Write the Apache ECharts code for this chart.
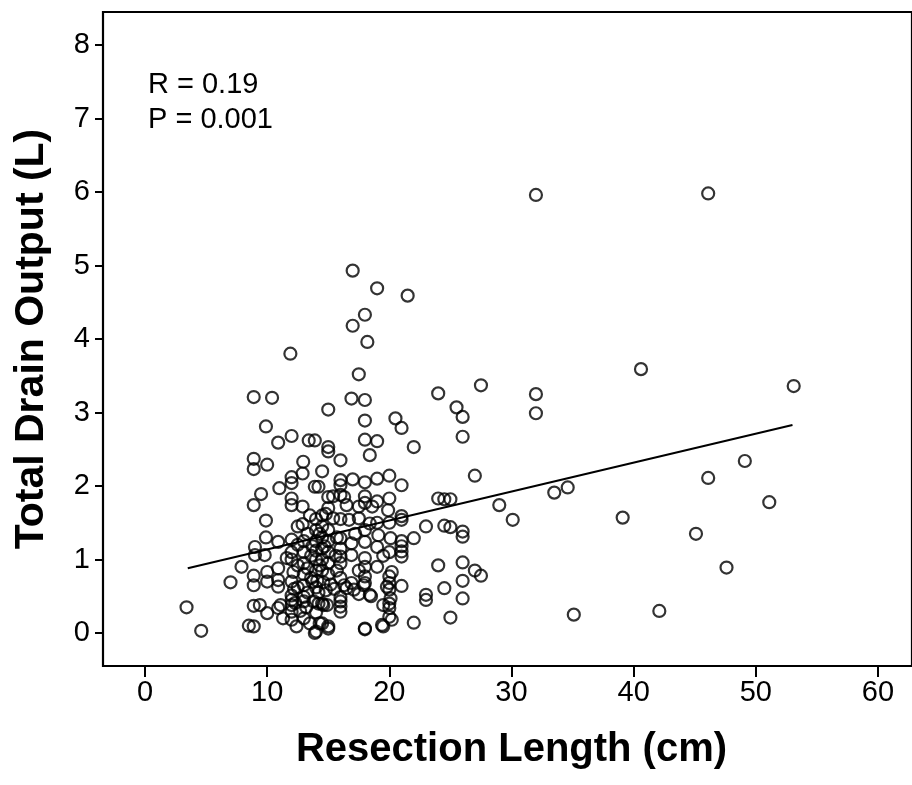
<!DOCTYPE html>
<html>
<head>
<meta charset="utf-8">
<script src="https://cdn.jsdelivr.net/npm/echarts@6/dist/echarts.min.js"></script>
<style>html,body{margin:0;padding:0;background:#fff;}#c{width:912px;height:785px;}</style>
</head>
<body>
<div id="c"></div>
<script>
// Resection length (cm)
const resectionLength = [
3.4,4.6,7.0,7.9,8.5,8.9,8.9,9.4,8.9,8.9,9.0,9.0,9.8,9.9,9.9,8.9,9.5,8.9,8.9,10.0,9.9,8.9,10.4,10.0,10.0,10.0,10.9,11.1,11.3,10.9,10.9,10.9,10.9,11.0,10.9,11.6,12.0,11.9,
12.0,12.0,12.0,12.0,12.0,12.0,12.15,12.0,12.0,12.0,12.0,12.0,12.4,12.3,12.0,12.0,12.2,
13.0,13.0,13.0,13.0,12.9,12.9,12.9,12.95,13.0,13.0,13.0,13.0,13.4,13.5,
13.9,13.9,13.9,14.0,13.8,14.2,14.1,14.0,14.0,14.0,14.0,14.0,14.0,13.6,13.6,13.5,14.2,14.5,14.3,14.2,14.0,
14.6,14.5,14.6,14.5,15.0,15.0,14.9,15.2,15.0,15.4,15.0,15.4,15.0,15.0,15.0,14.5,14.5,14.5,14.5,14.5,14.5,15.0,15.0,15.0,15.0,15.0,14.7,
16.0,16.0,16.0,16.0,16.0,16.0,16.0,16.0,16.0,16.0,16.0,16.0,16.0,16.0,15.5,15.6,
16.5,16.9,17.1,16.5,16.7,16.9,16.9,17.0,17.0,17.0,16.9,17.5,17.5,17.5,17.5,17.5,17.2,
18.0,18.0,17.9,18.0,18.0,18.0,18.0,18.0,18.0,18.0,18.0,18.0,18.0,18.0,18.2,18.4,18.4,18.4,18.5,18.6,18.0,18.0,
19.0,19.0,19.1,19.0,19.0,19.0,19.0,19.4,19.5,19.5,19.8,19.9,19.5,19.0,
20.0,20.0,20.0,20.1,20.0,20.0,20.0,20.2,20.2,20.1,20.0,20.0,20.5,20.0,20.0,
21.0,21.0,21.0,21.0,21.0,21.0,21.0,21.0,21.5,22.0,22.0,22.0,21.0,
23.0,23.0,23.0,24.0,24.0,24.0,24.5,24.5,24.5,25.0,25.0,25.0,25.5,26.0,26.0,26.0,26.0,26.0,26.0,26.0,27.0,27.0,27.5,27.5,
29.0,30.1,32.0,32.0,32.0,33.5,34.6,35.1,39.1,40.6,42.1,45.1,46.1,46.1,47.6,49.1,51.1,53.1,
12.5,12.5,12.5,12.5,13.3,13.3,13.3,13.7,13.7,14.3,14.3,14.8,14.8,15.7,15.7,16.3,16.3,12.7,13.2,14.0
];
// Total drain output (L)
const drainOutput = [
0.35,0.03,0.69,0.90,0.10,0.09,0.37,0.38,0.65,0.78,1.06,1.17,1.06,1.30,1.53,1.74,1.89,2.23,2.37,2.29,2.81,3.21,3.20,0.27,0.70,0.83,0.34,0.38,0.20,0.63,0.72,0.88,1.24,1.97,2.59,1.02,2.68,3.80,
0.18,0.29,0.38,0.45,0.51,0.70,0.83,1.27,1.74,1.83,2.04,2.12,0.09,0.41,1.00,1.10,0.60,
0.20,0.43,0.49,0.65,1.48,1.72,2.17,2.33,0.80,0.95,1.10,1.25,2.62,0.13,
2.62,1.99,0.00,0.02,0.43,0.40,0.71,0.85,1.00,1.12,1.25,1.40,1.55,1.05,0.75,1.60,1.99,2.20,0.13,0.55,0.62,
0.38,0.40,0.69,0.13,0.06,0.09,0.38,0.66,1.70,1.56,1.85,1.86,2.47,2.53,3.04,0.85,1.00,1.15,1.30,1.45,1.60,0.80,0.95,1.10,1.25,1.40,1.18,
0.29,0.36,0.43,0.49,0.95,1.04,1.29,1.88,2.01,2.08,2.35,0.75,1.15,1.55,0.60,1.05,
0.61,0.68,0.59,1.74,1.54,1.06,1.22,2.09,4.18,4.93,3.19,0.53,1.56,1.72,3.52,0.85,1.35,
0.05,0.06,0.65,0.68,0.77,1.02,1.24,1.77,1.86,2.05,2.63,2.89,3.17,4.33,3.96,0.52,1.49,2.42,0.50,1.72,1.40,0.90,
0.90,1.17,1.33,1.79,2.10,2.61,4.69,0.11,0.38,0.09,0.63,1.67,1.05,1.50,
0.22,0.34,0.40,0.47,0.59,0.68,0.77,0.83,0.18,1.29,1.83,2.14,2.92,1.10,1.50,
0.64,1.04,1.11,1.18,1.54,1.59,2.01,2.79,4.59,0.14,1.29,2.53,1.25,
0.45,0.52,1.45,0.92,1.83,3.26,0.61,1.46,1.82,0.21,1.44,1.82,3.07,0.47,0.71,0.96,1.31,1.38,2.67,2.94,0.85,2.14,0.78,3.37,
1.74,1.54,5.96,3.25,2.99,1.91,1.98,0.25,1.57,3.59,0.30,1.35,5.98,2.11,0.89,2.34,1.78,3.36,
0.62,0.92,1.20,1.45,0.55,0.88,1.35,0.70,1.18,0.92,1.35,0.58,1.62,0.85,1.30,0.65,1.85,0.30,0.35,0.28
];
// fit line endpoints
const fitX = [3.5, 53.0];
const fitY = [0.88, 2.83];
const xTicks = [0, 10, 20, 30, 40, 50, 60];
const yTicks = [0, 1, 2, 3, 4, 5, 6, 7, 8];
const statsText = ['R = 0.19', 'P = 0.001'];

const points = resectionLength.map((x, i) => [x, drainOutput[i]]);
const fitLine = fitX.map((x, i) => [x, fitY[i]]);

const X_MIN = xTicks[0], X_MAX = xTicks[xTicks.length - 1];
const Y_MIN = yTicks[0], Y_MAX = yTicks[yTicks.length - 1];

const FONT = 'Liberation Sans, Arial, sans-serif';
const hiddenAxis = (g, min, max) => ({gridIndex: g, type: 'value', show: false, min: min, max: max});
const chart = echarts.init(document.getElementById('c'), null, {renderer: 'canvas'});
chart.setOption({
  animation: false,
  backgroundColor: '#fff',
  grid: [
    // 0: frame box
    {left: 103, top: 12, width: 850, height: 654, show: true, borderColor: '#000', borderWidth: 2.2, backgroundColor: 'transparent'},
    // 1: x display axis (bottom on frame)
    {left: 145, top: 12, width: 733, height: 654, show: false},
    // 2: y display axis (left on frame)
    {left: 103, top: 45, width: 800, height: 588, show: false},
    // 3: data
    {left: 145, top: 45, width: 733, height: 588, show: false}
  ],
  xAxis: [
    hiddenAxis(0, 0, 1),
    {gridIndex: 1, type: 'value', min: X_MIN, max: X_MAX, interval: 10,
     axisLine: {show: false}, splitLine: {show: false},
     axisTick: {show: true, length: 11, lineStyle: {color: '#000', width: 2}},
     axisLabel: {color: '#000', fontSize: 29, fontFamily: FONT, margin: 12},
     name: 'Resection Length (cm)', nameLocation: 'middle', nameGap: 84,
     nameTextStyle: {color: '#000', fontSize: 40, fontWeight: 'bold', fontFamily: FONT, verticalAlign: 'middle'}},
    hiddenAxis(2, 0, 1),
    hiddenAxis(3, X_MIN, X_MAX)
  ],
  yAxis: [
    hiddenAxis(0, 0, 1),
    hiddenAxis(1, 0, 1),
    {gridIndex: 2, type: 'value', min: Y_MIN, max: Y_MAX, interval: 1,
     axisLine: {show: false}, splitLine: {show: false},
     axisTick: {show: true, length: 8, lineStyle: {color: '#000', width: 2}},
     axisLabel: {color: '#000', fontSize: 29, fontFamily: FONT, margin: 13},
     name: 'Total Drain Output (L)', nameLocation: 'middle', nameGap: 71, nameRotate: 90,
     nameTextStyle: {color: '#000', fontSize: 41, fontWeight: 'bold', fontFamily: FONT, verticalAlign: 'middle'}},
    hiddenAxis(3, Y_MIN, Y_MAX)
  ],
  graphic: [
    {type: 'text', left: 148, top: 70, style: {text: statsText[0], font: '29px ' + FONT, fill: '#000'}},
    {type: 'text', left: 148, top: 105, style: {text: statsText[1], font: '29px ' + FONT, fill: '#000'}}
  ],
  series: [
    {type: 'scatter', xAxisIndex: 3, yAxisIndex: 3, data: points, symbol: 'circle', symbolSize: 12, clip: false,
     itemStyle: {color: 'rgba(0,0,0,0)', borderColor: '#000', borderWidth: 2.2}, emphasis: {disabled: true}},
    {type: 'line', xAxisIndex: 3, yAxisIndex: 3, data: fitLine, symbol: 'none', clip: false,
     lineStyle: {color: '#000', width: 2}, emphasis: {disabled: true}}
  ]
});
</script>
</body>
</html>
